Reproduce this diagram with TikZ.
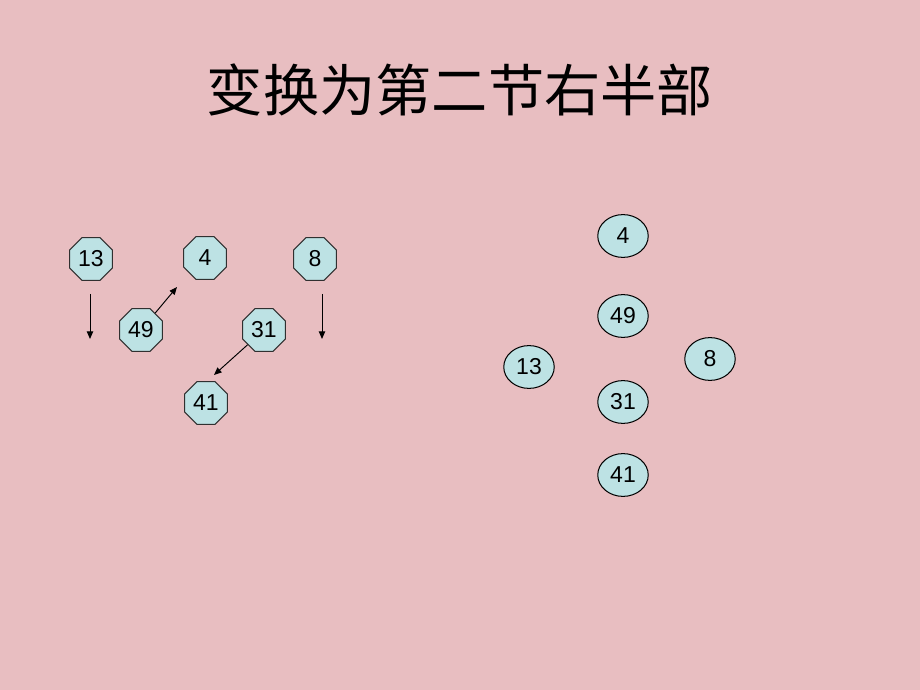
\documentclass[tikz,border=0pt]{standalone}
\usepackage{fontspec}
\setmainfont{Liberation Sans}
\newfontfamily\cjk{Noto Sans CJK SC}
\usetikzlibrary{shapes.geometric,arrows.meta}
\definecolor{bgpink}{HTML}{E8BEC1}
\definecolor{nodecyan}{HTML}{BDE2E4}
\definecolor{edgegray}{HTML}{303030}
\tikzset{
  octnode/.style={regular polygon, regular polygon sides=8, draw=edgegray, line width=0.8pt,
    fill=nodecyan, inner sep=0pt, minimum size=36.4pt, font=\fontsize{18}{20}\selectfont},
  ellnode/.style={ellipse, draw=black, line width=0.8pt, fill=nodecyan, inner sep=0pt,
    minimum width=39.5pt, minimum height=33.5pt, font=\fontsize{18}{20}\selectfont},
  arr/.style={-{Triangle[length=6pt,width=5pt]}, line width=0.75pt, black},
}
\begin{document}
\begin{tikzpicture}[x=0.7826pt, y=-0.7826pt]
\fill[bgpink] (0,0) rectangle (920,690);
\useasboundingbox (0,0) rectangle (920,690);
\node[font=\cjk\fontsize{44}{48}\selectfont] (title) at (460,90) {变换为第二节右半部};
% left part
\node[octnode] (L13) at (91,259) {13};
\node[octnode] (L4) at (205,258) {4};
\node[octnode] (L8) at (315,259) {8};
\node[octnode] (L49) at (141,330) {49};
\node[octnode] (L31) at (264,330) {31};
\node[octnode] (L41) at (206,403) {41};
\coordinate (a13s) at (90,294);
\coordinate (a13e) at (90,339);
\coordinate (a8s) at (322,294);
\coordinate (a8e) at (322,339);
\coordinate (a49e) at (177,287);
\coordinate (a31e) at (214,375);
\draw[arr] (a13s) -- (a13e);
\draw[arr] (a8s) -- (a8e);
\draw[arr] (L49) -- (a49e);
\draw[arr] (L31) -- (a31e);
% right part
\node[ellnode] (R4) at (623,236) {4};
\node[ellnode] (R49) at (623,316) {49};
\node[ellnode] (R13) at (529,367) {13};
\node[ellnode] (R8) at (710,359) {8};
\node[ellnode] (R31) at (623,402) {31};
\node[ellnode] (R41) at (623,475) {41};
\end{tikzpicture}
\end{document}
